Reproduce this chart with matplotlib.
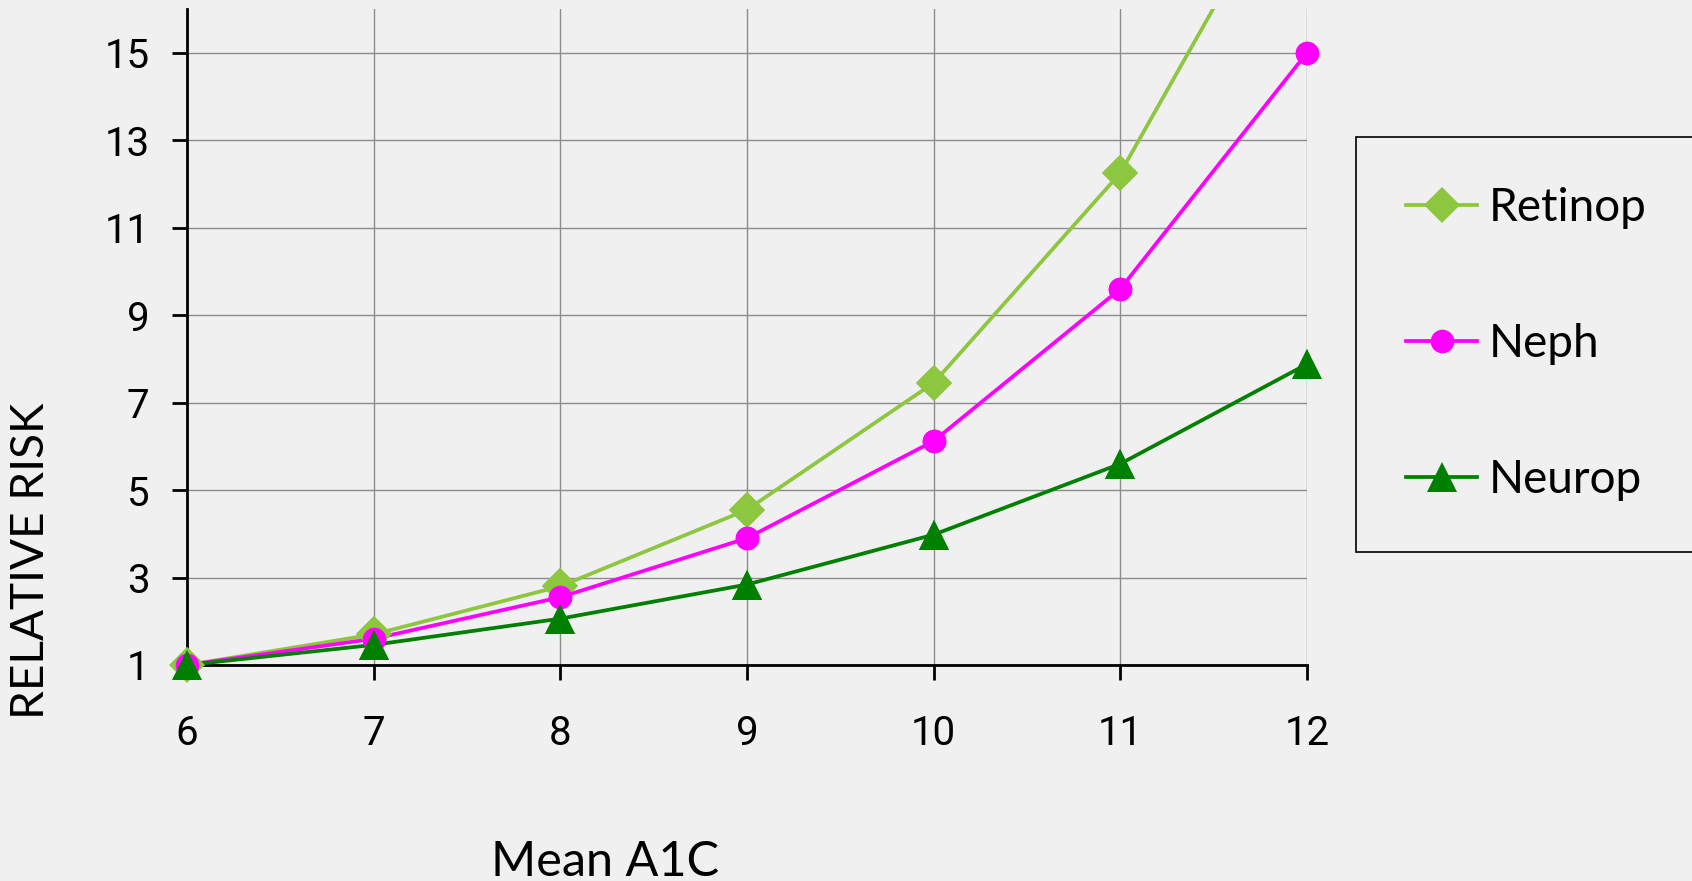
import numpy as np
import matplotlib.pyplot as plt

# data
a1c = [6, 7, 8, 9, 10, 11, 12]
retinop = [1.0, 1.7, 2.8, 4.55, 7.45, 12.25, 19.8]
neph = [1.0, 1.6, 2.55, 3.9, 6.12, 9.6, 15.0]
neurop = [1.0, 1.46, 2.06, 2.84, 3.98, 5.6, 7.88]
series_names = ['Retinop', 'Neph', 'Neurop']
y_ticks = [1, 3, 5, 7, 9, 11, 13, 15]

bg = '#f0f0f0'
fig = plt.figure(figsize=(16.92, 8.81), dpi=100, facecolor=bg)
ax = fig.add_axes([187/1692, 1 - 665/881, (1307 - 187)/1692, (665 - 9)/881])
ax.set_facecolor(bg)

styles = [
    (retinop, '#8dc63f', 'D', 18),
    (neph, '#ff00ff', 'o', 17),
    (neurop, '#008000', '^', 22),
]

handles = []
for (vals, col, mk, ms), name in zip(styles, series_names):
    # line clipped to the axes, markers drawn unclipped on top
    h, = ax.plot(a1c, vals, color=col, lw=2.7, marker=mk, ms=ms,
                 markeredgewidth=0, label=name, zorder=3)
    ax.plot(a1c, vals, ls='none', marker=mk, ms=ms, color=col,
            markeredgewidth=0, clip_on=False, zorder=4)
    handles.append(h)

ax.set_xlim(6, 12)
ax.set_ylim(1, 16)
ax.set_xticks(a1c)
ax.set_yticks(y_ticks)
ax.grid(True, color='#8c8c8c', lw=1.0)
ax.set_axisbelow(True)

for s in ['top', 'right']:
    ax.spines[s].set_visible(False)
for s in ['left', 'bottom']:
    ax.spines[s].set_linewidth(2.0)
    ax.spines[s].set_zorder(2.5)

ax.tick_params(axis='both', direction='out', length=11, width=2, labelsize=29)
ax.tick_params(axis='y', pad=16)
ax.tick_params(axis='x', pad=24)
for lbl in ax.get_xticklabels() + ax.get_yticklabels():
    lbl.set_fontfamily('Roboto')

fig.text(31/1692, 1 - 561/881, 'RELATIVE RISK', rotation=90, fontsize=33,
         family='Lato', ha='center', va='center')
fig.text(605/1692, 1 - 876/881, 'Mean A1C', fontsize=35, family='Lato',
         ha='center', va='baseline')

leg = fig.legend(handles=handles, loc='upper left',
                 bbox_to_anchor=(1356/1692, 1 - 137/881 - 0.01, 400/1692, 0.01),
                 mode='expand', prop={'family': 'Lato', 'size': 33},
                 frameon=True, fancybox=False, edgecolor='black',
                 facecolor=bg, framealpha=1, handlelength=1.55,
                 handletextpad=0.25, labelspacing=2.05, borderpad=1.1,
                 borderaxespad=0)
leg.get_frame().set_linewidth(1.2)

fig.savefig('out.png', dpi=100, facecolor=bg)
